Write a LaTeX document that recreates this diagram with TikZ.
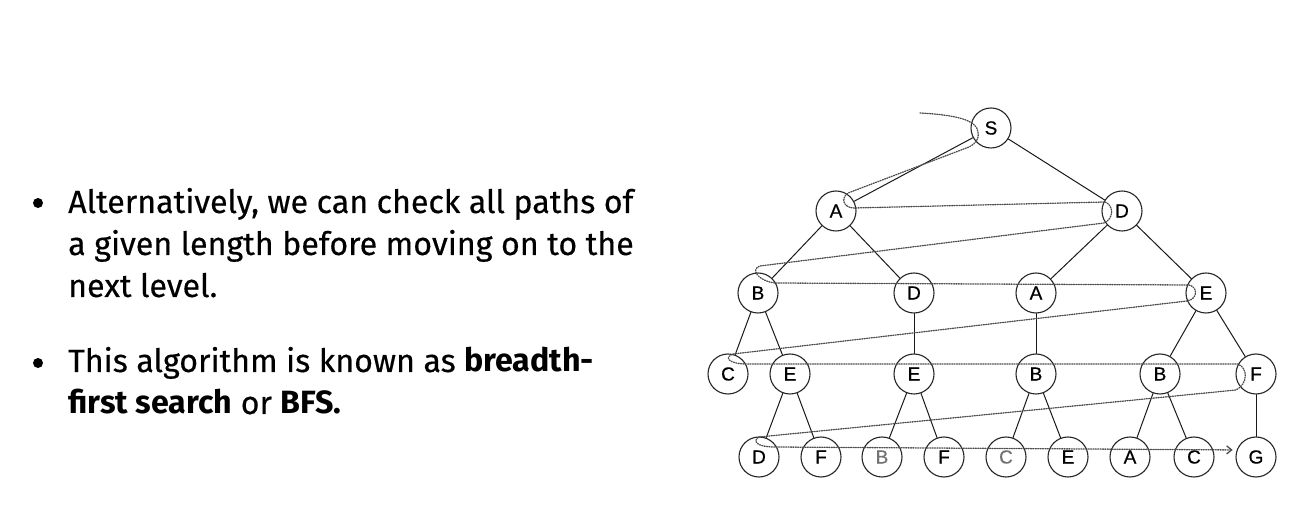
\documentclass[tikz,border=0pt]{standalone}
\usepackage{fontspec}
\setmainfont{Fira Sans}[UprightFeatures={FakeBold=0.35}]
\newfontfamily\treefont{Liberation Sans}[FakeBold=0.6]
\usetikzlibrary{calc,arrows.meta}

\begin{document}
\begin{tikzpicture}[
    x=1pt, y=1pt,
    >={Straight Barb[length=5pt,width=8pt]},
    line cap=round,
    bullet text/.style={anchor=base west, align=left, inner sep=0pt,
      font=\fontsize{32.2}{42}\selectfont},
    bullet dot/.style={circle, fill=black, inner sep=0pt, minimum size=10pt},
    tree node/.style={circle, draw=black!85, line width=1.1pt,
      minimum size=40pt, inner sep=0pt, font=\treefont\fontsize{19}{19}\selectfont},
    faint/.style={text=black!55},
    tree edge/.style={line width=1pt, black!90},
    bfs path/.style={line width=1.3pt, black!70, dash pattern=on 1pt off 1.4pt}
]
  \useasboundingbox (0,0) rectangle (1304,514);

  % Bullet points
  \node[bullet dot] (dot1) at (38,311) {};
  \node[bullet text] (txt1) at (68,217)
    {Alternatively, we can check all paths of\\
     a given length before moving on to the\\
     next level.};
  \node[bullet dot] (dot2) at (38,151) {};
  \node[bullet text] (txt2) at (68,100)
    {This algorithm is known as \textbf{breadth-}\\
     \textbf{first search} or \textbf{BFS.}};

  % Search tree
  \node[tree node] (S) at (991,386) {S};

  \node[tree node] (A1) at (836,303) {A};
  \node[tree node] (D1) at (1122,303) {D};

  \node[tree node] (B2) at (758,221) {B};
  \node[tree node] (D2) at (914,221) {D};
  \node[tree node] (A2) at (1036,221) {A};
  \node[tree node] (E2) at (1206,221) {E};

  \node[tree node] (C3) at (728,140) {C};
  \node[tree node] (E3a) at (790,140) {E};
  \node[tree node] (E3b) at (914,140) {E};
  \node[tree node] (B3a) at (1036,140) {B};
  \node[tree node] (B3b) at (1160,140) {B};
  \node[tree node] (F3) at (1256,140) {F};

  \node[tree node] (D4) at (759,57) {D};
  \node[tree node] (F4a) at (821,57) {F};
  \node[tree node, faint] (B4) at (882,57) {B};
  \node[tree node] (F4b) at (944,57) {F};
  \node[tree node, faint] (C4a) at (1006,57) {C};
  \node[tree node] (E4) at (1068,57) {E};
  \node[tree node] (A4) at (1130,57) {A};
  \node[tree node] (C4b) at (1194,57) {C};
  \node[tree node] (G) at (1256,57) {G};

  % Edges
  \draw[tree edge] (S) -- (A1);
  \draw[tree edge] (S) -- (D1);
  \draw[tree edge] (A1) -- (B2);
  \draw[tree edge] (A1) -- (D2);
  \draw[tree edge] (D1) -- (A2);
  \draw[tree edge] (D1) -- (E2);
  \draw[tree edge] (B2) -- (C3);
  \draw[tree edge] (B2) -- (E3a);
  \draw[tree edge] (D2) -- (E3b);
  \draw[tree edge] (A2) -- (B3a);
  \draw[tree edge] (E2) -- (B3b);
  \draw[tree edge] (E2) -- (F3);
  \draw[tree edge] (E3a) -- (D4);
  \draw[tree edge] (E3a) -- (F4a);
  \draw[tree edge] (E3b) -- (B4);
  \draw[tree edge] (E3b) -- (F4b);
  \draw[tree edge] (B3a) -- (C4a);
  \draw[tree edge] (B3a) -- (E4);
  \draw[tree edge] (B3b) -- (A4);
  \draw[tree edge] (B3b) -- (C4b);
  \draw[tree edge] (F3) -- (G);

  % Breadth-first sweep, level by level
  \coordinate (start) at ($(S)+(-71,15)$);
  \draw[bfs path, ->, shorten >=4pt] (start)
    .. controls ($(S)+(-35,13)$) and ($(S)+(-14,8)$) .. ($(S)+(-13,-4)$)
    .. controls ($(S)+(-12,-12)$) and ($(S)+(-15,-15)$) .. ($(S)+(-22,-19)$)
    -- ($(A1)+(12,18)$)
    .. controls ($(A1)+(4,12)$) and ($(A1)+(8,3)$) .. ($(A1)+(18,3)$)
    -- ($(D1)+(-17,9)$)
    .. controls ($(D1)+(-8,6)$) and ($(D1)+(-8,-8)$) .. ($(D1)+(-18,-12)$)
    -- ($(B2)+(2,27)$)
    .. controls ($(B2)+(-8,24)$) and ($(B2)+(0,12)$) .. ($(B2)+(17,10)$)
    -- ($(E2)+(-17,8)$)
    .. controls ($(E2)+(-8,6)$) and ($(E2)+(-8,-6)$) .. ($(E2)+(-19,-8)$)
    -- ($(C3)+(5,20)$)
    .. controls ($(C3)+(-4,17)$) and ($(C3)+(0,10)$) .. ($(C3)+(19,10)$)
    -- ($(F3)+(-18,10)$)
    .. controls ($(F3)+(-8,6)$) and ($(F3)+(-8,-10)$) .. ($(F3)+(-20,-16)$)
    -- ($(D4)+(0,20)$)
    .. controls ($(D4)+(-7,16)$) and ($(D4)+(-2,10)$) .. ($(D4)+(15,10)$)
    -- (G.160);
\end{tikzpicture}
\end{document}
